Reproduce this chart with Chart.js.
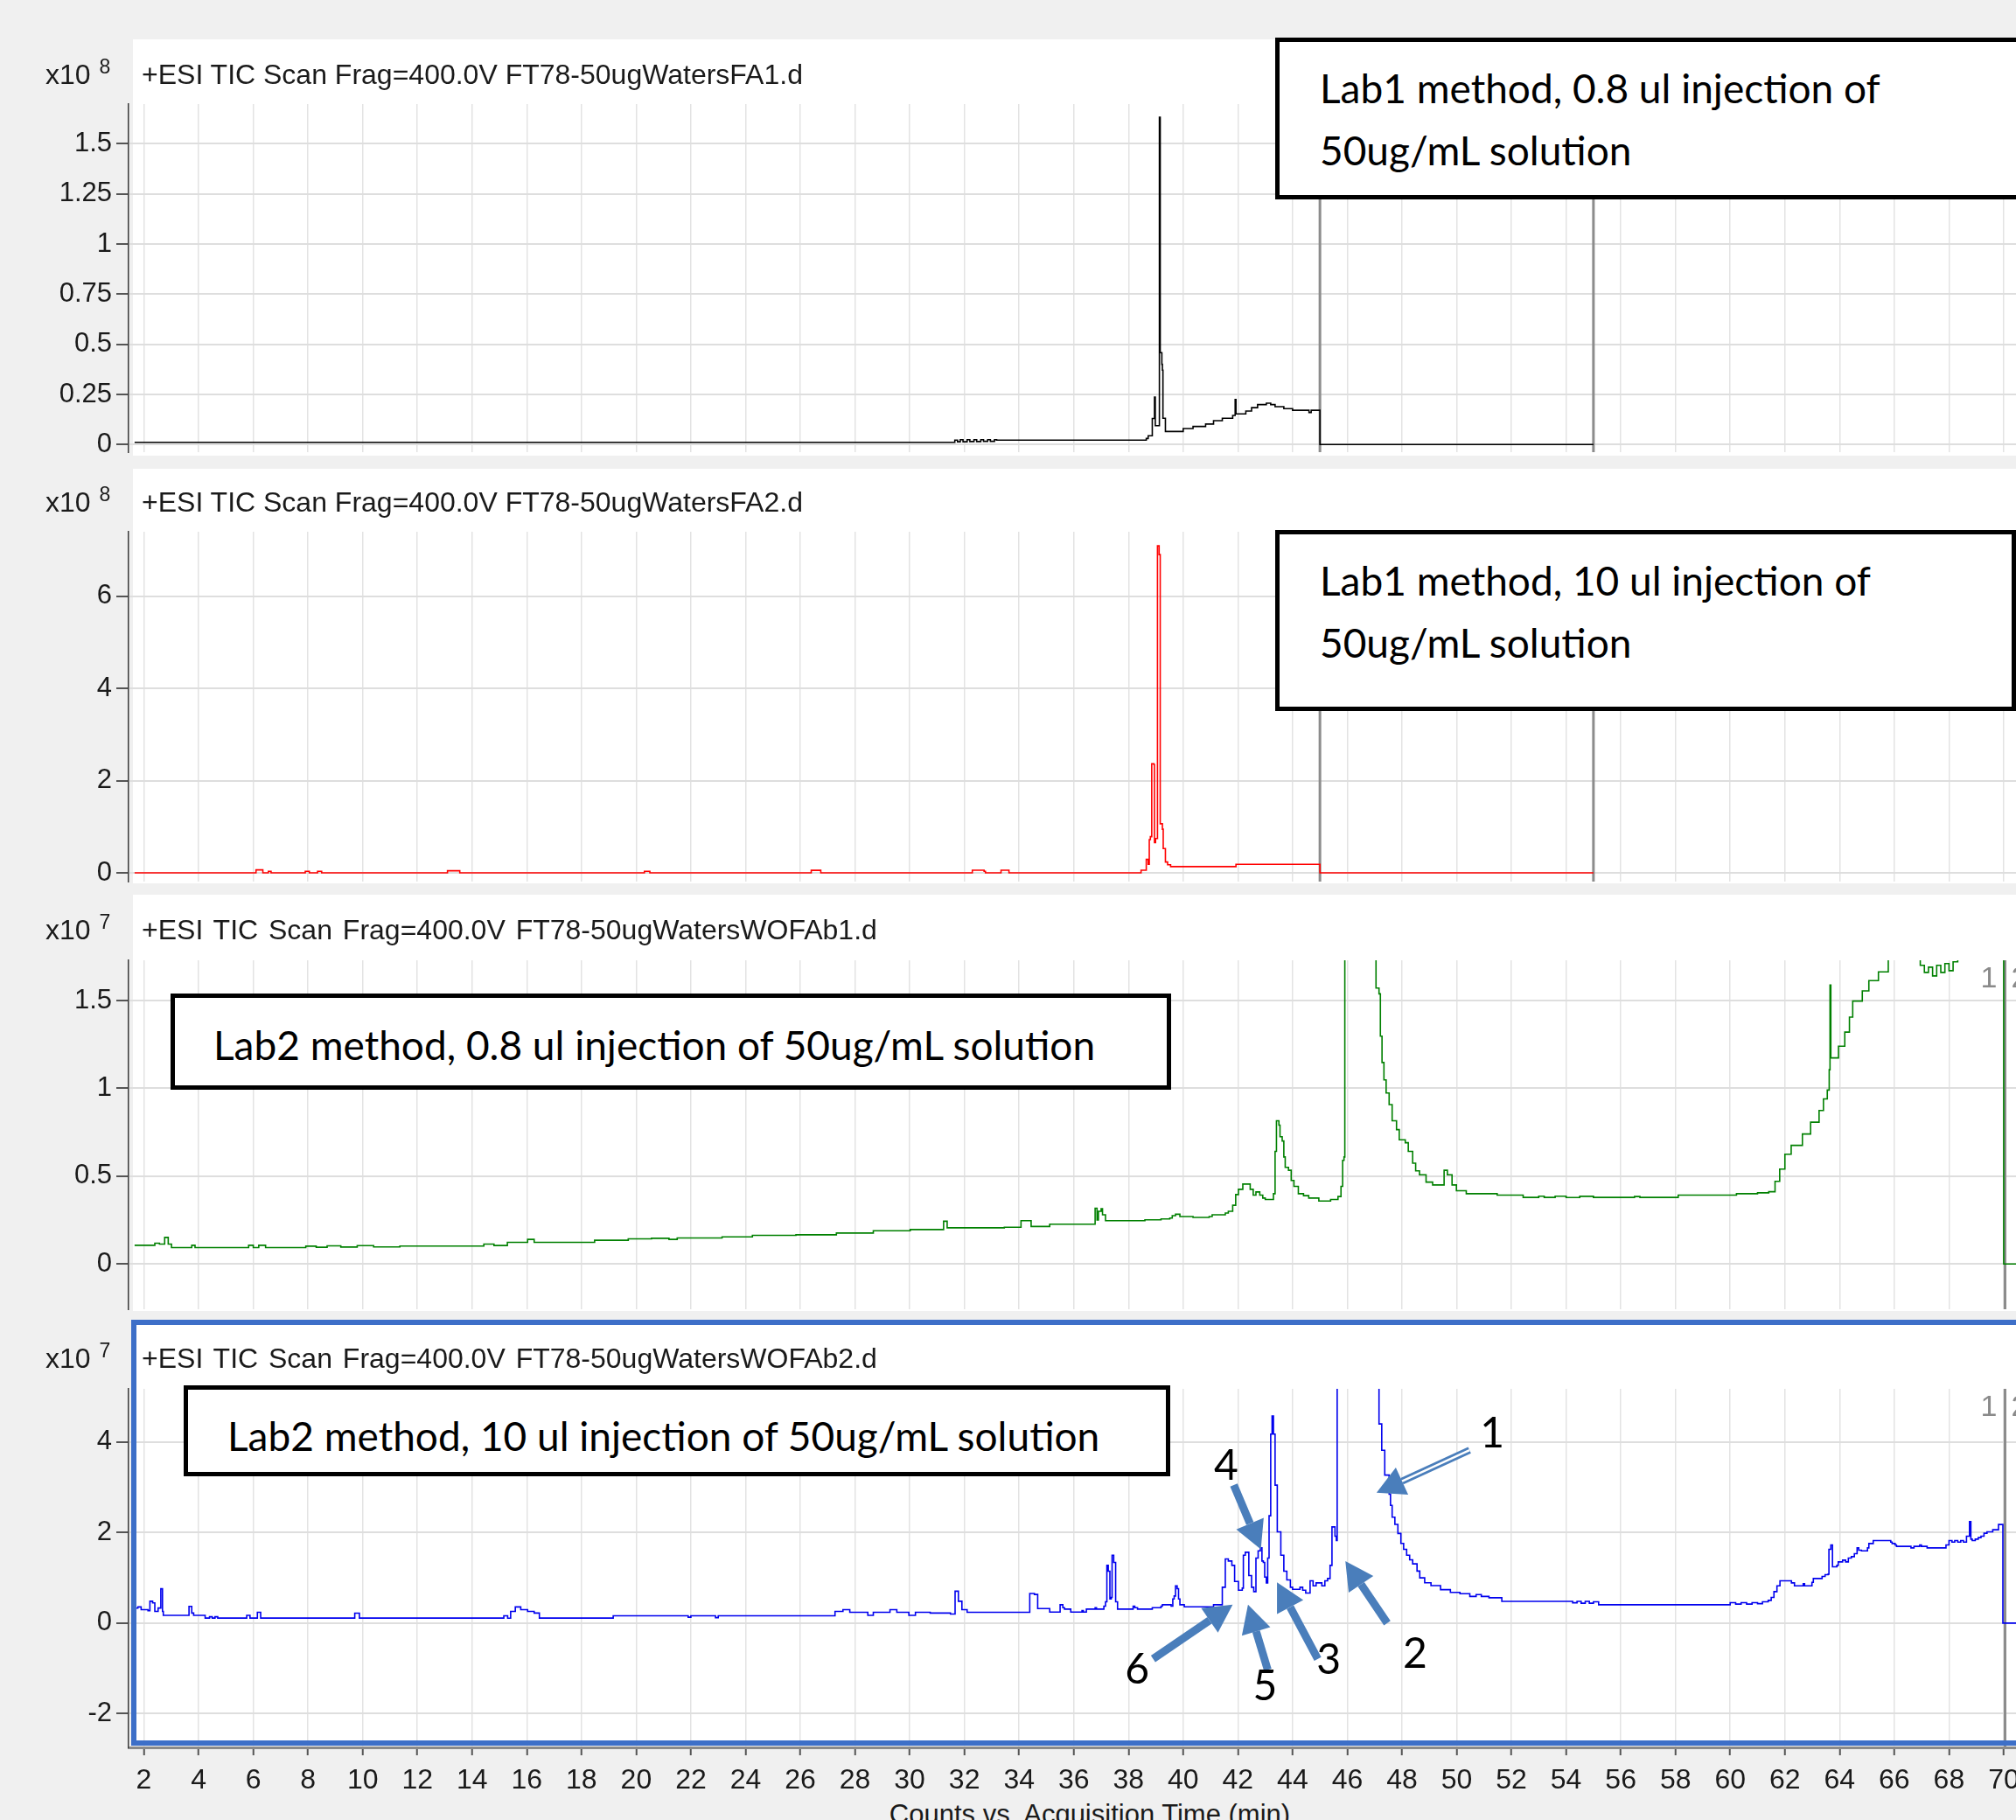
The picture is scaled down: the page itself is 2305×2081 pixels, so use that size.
<!DOCTYPE html>
<html>
<head>
<meta charset="utf-8">
<title>TIC Scan Frag=400.0V</title>
<script src="https://cdn.jsdelivr.net/npm/chart.js@4.4.1/dist/chart.umd.min.js"></script>
<style>
  html, body { margin: 0; padding: 0; }
  body {
    width: 2305px; height: 2081px; overflow: hidden; position: relative;
    background: #f0f0f0; color: #1a1a1a;
    font-family: "Liberation Sans", Arial, sans-serif;
  }
  .panel { position: absolute; left: 152px; width: 2153px; background: #fff; }
  .frame {
    position: absolute; left: 150px; top: 1509px; width: 2300px; height: 475px;
    border: 6px solid #3d6fc8; pointer-events: none; z-index: 4;
  }
  canvas { position: absolute; left: 0; z-index: 1; }
  .header, .mult {
    position: absolute; font-size: 32px; line-height: 36px; white-space: nowrap; z-index: 2;
  }
  .header { left: 162px; }
  .mult { left: 52px; }
  .mult span { font-size: 23px; position: relative; top: -12px; margin-left: 10px; }
  .note {
    position: absolute; box-sizing: border-box; background: #fff; border: 5px solid #000;
    font-family: Lato, "Open Sans", sans-serif; font-size: 46px; line-height: 71px;
    white-space: nowrap; overflow: hidden; z-index: 3; color: #000;
  }
  .axis-title {
    position: absolute; left: 846px; width: 800px; top: 2057px; text-align: center;
    font-size: 31px; line-height: 36px; white-space: nowrap;
  }
</style>
</head>
<body>

<div class="panel" style="top:45px;height:476px"></div>
<div class="panel" style="top:536px;height:474px"></div>
<div class="panel" style="top:1023px;height:476px"></div>
<div class="panel" style="top:1509px;height:487px"></div>

<div class="mult" style="top:67px">x10<span>8</span></div>
<div class="header" style="top:67px">+ESI TIC Scan Frag=400.0V FT78-50ugWatersFA1.d</div>
<div class="mult" style="top:556px">x10<span>8</span></div>
<div class="header" style="top:556px">+ESI TIC Scan Frag=400.0V FT78-50ugWatersFA2.d</div>
<div class="mult" style="top:1045px">x10<span>7</span></div>
<div class="header" style="top:1045px;word-spacing:3px">+ESI TIC Scan Frag=400.0V FT78-50ugWatersWOFAb1.d</div>
<div class="mult" style="top:1535px">x10<span>7</span></div>
<div class="header" style="top:1535px;word-spacing:3px">+ESI TIC Scan Frag=400.0V FT78-50ugWatersWOFAb2.d</div>

<canvas id="chartFA1" width="2305" height="438" style="top:99px"></canvas>
<canvas id="chartFA2" width="2305" height="440" style="top:588px"></canvas>
<canvas id="chartWOFA1" width="2305" height="439" style="top:1078px"></canvas>
<canvas id="chartWOFA2" width="2305" height="513" style="top:1568px"></canvas>

<div class="note" style="left:1458px;top:43px;width:1000px;height:185px;padding:17px 0 0 46px">Lab1 method, 0.8 ul injection of<br>50ug/mL solution</div>
<div class="note" style="left:1458px;top:606px;width:847px;height:207px;padding:17px 0 0 46px">Lab1 method, 10 ul injection of<br>50ug/mL solution</div>
<div class="note" style="left:195px;top:1136px;width:1144px;height:110px;padding:18px 0 0 44px">Lab2 method, 0.8 ul injection of 50ug/mL solution</div>
<div class="note" style="left:210px;top:1584px;width:1128px;height:104px;padding:17px 0 0 45px">Lab2 method, 10 ul injection of 50ug/mL solution</div>

<div class="frame"></div>
<div class="axis-title">Counts vs. Acquisition Time (min)</div>

<script>
// Eje de tiempo (min)
const timeRange = [1.44, 70.45];
const timeTicks = [2, 4, 6, 8, 10, 12, 14, 16, 18, 20, 22, 24, 26, 28, 30, 32, 34, 36,
    38, 40, 42, 44, 46, 48, 50, 52, 54, 56, 58, 60, 62, 64, 66, 68, 70];

// Ejes de cuentas por panel
const fa1Range = [-0.038, 1.698];
const fa1Ticks = [0, 0.25, 0.5, 0.75, 1, 1.25, 1.5];
const fa2Range = [-0.184, 7.396];
const fa2Ticks = [0, 2, 4, 6];
const wofa1Range = [-0.258, 1.729];
const wofa1Ticks = [0, 0.5, 1, 1.5];
const wofa2Range = [-2.746, 5.176];
const wofa2Ticks = [-2, 0, 2, 4];

// FT78-50ugWatersFA1.d  [min, counts x10^8]
const fa1Trace = [
    [1.66, 0.011], [31.65, 0.022], [31.75, 0.014], [31.85, 0.024], [31.95, 0.014], [32.1, 0.024],
    [32.2, 0.015], [32.35, 0.024], [32.45, 0.015], [32.6, 0.024], [32.7, 0.016], [32.85, 0.024],
    [32.95, 0.016], [33.1, 0.024], [33.18, 0.022],
    [38.65, 0.03], [38.72, 0.044], [38.87, 0.13], [38.95, 0.237], [38.98, 0.094],
    [39.13, 1.632], [39.16, 0.458], [39.22, 0.40], [39.24, 0.371], [39.26, 0.131], [39.35, 0.065],
    [40.0, 0.08], [40.36, 0.09], [40.82, 0.102], [41.11, 0.119], [41.43, 0.131], [41.81, 0.145],
    [41.9, 0.225], [41.93, 0.153], [42.29, 0.167], [42.5, 0.184], [42.72, 0.199], [43.04, 0.206],
    [43.2, 0.199], [43.36, 0.189], [43.68, 0.179], [44.0, 0.171], [44.6, 0.160], [44.68, 0.171],
    [45.0, 0.0], [55.0, 0.0]
];

// FT78-50ugWatersFA2.d  [min, counts x10^8]
const fa2Trace = [
    [1.66, 0.005], [6.1, 0.07], [6.35, 0.005], [6.55, 0.04], [6.65, 0.005],
    [7.9, 0.04], [8.05, 0.005], [8.35, 0.04], [8.5, 0.005], [13.1, 0.05], [13.55, 0.005],
    [20.3, 0.04], [20.5, 0.005], [26.4, 0.06], [26.75, 0.005],
    [32.29, 0.063], [32.72, 0.04], [32.77, 0.005], [33.34, 0.063], [33.63, 0.005],
    [38.46, 0.063], [38.65, 0.296], [38.72, 0.19], [38.76, 0.726], [38.8, 0.79], [38.85, 2.37],
    [38.93, 2.35], [38.95, 0.66], [38.99, 0.75], [39.06, 7.09], [39.12, 6.9], [39.16, 1.07],
    [39.24, 0.95], [39.27, 0.53], [39.35, 0.24], [39.43, 0.18], [39.54, 0.14],
    [41.93, 0.19], [45.0, 0.005], [55.0, 0.005]
];

// FT78-50ugWatersWOFAb1.d  [min, counts x10^7]
const wofa1Trace = [
    [1.66, 0.106], [2.4, 0.118], [2.57, 0.113], [2.76, 0.151], [2.89, 0.113], [3.01, 0.093],
    [3.75, 0.106], [3.87, 0.093], [5.83, 0.106], [6.0, 0.093], [6.2, 0.106], [6.45, 0.093],
    [7.92, 0.101], [8.3, 0.095], [8.7, 0.103], [9.2, 0.096], [9.8, 0.104], [10.4, 0.097],
    [11.36, 0.102], [14.43, 0.113], [14.8, 0.105], [15.29, 0.123], [16.03, 0.140], [16.27, 0.123],
    [18.48, 0.135], [19.71, 0.143], [20.56, 0.146], [21.2, 0.14], [21.5, 0.148], [23.14, 0.154],
    [24.25, 0.163], [25.84, 0.166], [27.32, 0.176], [28.67, 0.189], [30.02, 0.196], [31.24, 0.243],
    [31.37, 0.206], [33.46, 0.209], [34.07, 0.246], [34.44, 0.213], [35.12, 0.226],
    [36.78, 0.317], [36.85, 0.25], [36.9, 0.30], [37.0, 0.315], [37.05, 0.28], [37.16, 0.246],
    [38.6, 0.251], [39.19, 0.256], [39.51, 0.261], [39.6, 0.275], [39.72, 0.283], [39.88, 0.27],
    [40.36, 0.265], [40.95, 0.27], [41.06, 0.28], [41.54, 0.29], [41.65, 0.30], [41.81, 0.334],
    [41.92, 0.395], [42.02, 0.425], [42.18, 0.455], [42.45, 0.425], [42.56, 0.392], [42.66, 0.41],
    [42.8, 0.392], [42.91, 0.375], [43.0, 0.367], [43.3, 0.40], [43.36, 0.641], [43.41, 0.815],
    [43.5, 0.79], [43.54, 0.724], [43.62, 0.70], [43.68, 0.609], [43.73, 0.55], [43.85, 0.533],
    [43.95, 0.475], [44.05, 0.442], [44.21, 0.40], [44.4, 0.389], [44.59, 0.375], [44.96, 0.358],
    [45.39, 0.367], [45.66, 0.384], [45.77, 0.442], [45.83, 0.59], [45.88, 0.609], [45.91, 3.0],
    [47.05, 1.571], [47.16, 1.538], [47.21, 1.297], [47.27, 1.147], [47.34, 1.048], [47.42, 0.973],
    [47.53, 0.907], [47.64, 0.815], [47.8, 0.765], [47.9, 0.707], [48.12, 0.69], [48.23, 0.641],
    [48.39, 0.574], [48.5, 0.53], [48.64, 0.508], [48.88, 0.466], [49.12, 0.45], [49.54, 0.533],
    [49.66, 0.508], [49.83, 0.45], [49.99, 0.417], [50.35, 0.40], [51.48, 0.392], [52.43, 0.379],
    [53.0, 0.386], [53.2, 0.379], [53.6, 0.386], [54.0, 0.378], [54.5, 0.385], [55.0, 0.379],
    [56.5, 0.384], [56.7, 0.379], [58.1, 0.392], [60.23, 0.40], [61.0, 0.405], [61.41, 0.411],
    [61.64, 0.47], [61.81, 0.54], [62.0, 0.625], [62.23, 0.675], [62.64, 0.74], [62.94, 0.807],
    [63.25, 0.874], [63.41, 0.94], [63.55, 0.99], [63.62, 1.106], [63.65, 1.588], [63.68, 1.173],
    [63.96, 1.24], [64.19, 1.32], [64.36, 1.405], [64.48, 1.497], [64.83, 1.555], [65.07, 1.613],
    [65.42, 1.663], [65.78, 1.9], [66.95, 1.70], [67.1, 1.66], [67.25, 1.69], [67.4, 1.64],
    [67.55, 1.70], [67.7, 1.66], [67.85, 1.71], [68.0, 1.67], [68.15, 1.72], [68.32, 1.9],
    [70.0, 0.0], [70.45, 0.0]
];

// FT78-50ugWatersWOFAb2.d  [min, counts x10^7]
const wofa2Trace = [
    [1.66, 0.33], [1.78, 0.357], [1.9, 0.297], [2.15, 0.275], [2.22, 0.483], [2.32, 0.446],
    [2.4, 0.26], [2.52, 0.334], [2.62, 0.758], [2.68, 0.26], [2.71, 0.171], [3.62, 0.171],
    [3.65, 0.371], [3.75, 0.223], [3.82, 0.171], [4.24, 0.111], [4.4, 0.14], [4.5, 0.111],
    [4.6, 0.14], [4.7, 0.111], [5.76, 0.171], [5.88, 0.111], [6.15, 0.238], [6.27, 0.111],
    [9.71, 0.22], [9.88, 0.111], [15.16, 0.163], [15.3, 0.11], [15.41, 0.26], [15.58, 0.357],
    [15.78, 0.297], [16.03, 0.26], [16.27, 0.223], [16.46, 0.111], [19.16, 0.163], [21.9, 0.13],
    [22.0, 0.163], [22.9, 0.12], [23.0, 0.163], [27.27, 0.26], [27.56, 0.297], [27.81, 0.238],
    [28.47, 0.171], [28.67, 0.238], [29.28, 0.297], [29.53, 0.238], [29.97, 0.171], [30.21, 0.238],
    [30.75, 0.223], [31.49, 0.201], [31.66, 0.706], [31.78, 0.483], [31.91, 0.297], [32.1, 0.238],
    [34.31, 0.238], [34.39, 0.654], [34.56, 0.632], [34.68, 0.32], [35.12, 0.245], [35.5, 0.406],
    [35.6, 0.341], [35.66, 0.309], [35.89, 0.245], [36.3, 0.277], [36.35, 0.245], [36.46, 0.309],
    [36.78, 0.341], [36.83, 0.309], [37.1, 0.374], [37.16, 0.47], [37.21, 1.276], [37.26, 1.147],
    [37.32, 0.535], [37.37, 0.567], [37.4, 1.501], [37.46, 1.34], [37.53, 0.47], [37.6, 0.309],
    [38.17, 0.374], [38.23, 0.341], [38.33, 0.309], [38.87, 0.341], [39.19, 0.374], [39.24, 0.406],
    [39.56, 0.374], [39.62, 0.535], [39.67, 0.599], [39.72, 0.825], [39.78, 0.76], [39.83, 0.535],
    [39.88, 0.406], [40.04, 0.361], [41.11, 0.406], [41.43, 0.793], [41.54, 1.418], [41.65, 1.372],
    [41.78, 1.276], [41.88, 0.921], [42.02, 0.728], [42.16, 0.773], [42.2, 1.501], [42.27, 1.566],
    [42.4, 1.05], [42.5, 0.793], [42.58, 0.696], [42.66, 1.437], [42.74, 1.598], [42.82, 1.662],
    [42.88, 1.372], [42.93, 1.34], [42.98, 1.018], [43.04, 0.889], [43.09, 1.437], [43.14, 2.371],
    [43.2, 4.175], [43.25, 4.575], [43.3, 4.175], [43.36, 3.048], [43.44, 2.017], [43.57, 1.501],
    [43.68, 1.147], [43.79, 0.954], [43.92, 0.793], [44.0, 0.747], [44.27, 0.793], [44.37, 0.728],
    [44.48, 0.664], [44.64, 0.934], [44.75, 0.825], [44.86, 0.889], [45.07, 0.825], [45.18, 0.934],
    [45.28, 0.986], [45.37, 1.276], [45.44, 2.126], [45.55, 1.92], [45.6, 1.823], [45.63, 7.0],
    [47.16, 4.40], [47.26, 3.82], [47.37, 3.27], [47.53, 2.85], [47.58, 2.60], [47.64, 2.34],
    [47.74, 2.18], [47.85, 1.98], [47.96, 1.76], [48.06, 1.63], [48.17, 1.50], [48.28, 1.40],
    [48.39, 1.31], [48.55, 1.15], [48.65, 1.0], [48.83, 0.89], [49.06, 0.83], [49.41, 0.74],
    [49.77, 0.68], [50.12, 0.65], [50.48, 0.59], [50.71, 0.63], [50.9, 0.59], [51.18, 0.56],
    [51.65, 0.48], [54.24, 0.45], [54.4, 0.48], [54.55, 0.44], [54.7, 0.48], [54.85, 0.44],
    [55.0, 0.47], [55.19, 0.406], [60.0, 0.451], [60.2, 0.42], [60.4, 0.451], [60.6, 0.42],
    [60.8, 0.451], [61.0, 0.43], [61.18, 0.47], [61.39, 0.503], [61.5, 0.567], [61.6, 0.696],
    [61.71, 0.825], [61.82, 0.934], [62.24, 0.889], [62.35, 0.825], [62.67, 0.87], [62.72, 0.825],
    [62.99, 0.902], [63.04, 0.986], [63.36, 1.031], [63.47, 1.07], [63.58, 1.082], [63.61, 1.63],
    [63.68, 1.727], [63.74, 1.244], [63.9, 1.276], [63.95, 1.353], [64.11, 1.392], [64.22, 1.353],
    [64.32, 1.437], [64.43, 1.469], [64.54, 1.534], [64.64, 1.662], [64.7, 1.611], [64.8, 1.598],
    [65.02, 1.662], [65.07, 1.759], [65.23, 1.823], [65.87, 1.791], [65.92, 1.759], [66.03, 1.727],
    [66.08, 1.695], [66.61, 1.662], [66.72, 1.695], [66.93, 1.727], [66.99, 1.695], [67.2, 1.662],
    [67.89, 1.727], [68.0, 1.823], [68.11, 1.791], [68.21, 1.823], [68.32, 1.791], [68.43, 1.823],
    [68.53, 1.791], [68.64, 1.92], [68.75, 2.242], [68.8, 1.856], [68.85, 1.823], [68.96, 1.856],
    [69.07, 1.888], [69.17, 1.92], [69.28, 1.985], [69.39, 2.017], [69.6, 2.062], [69.81, 2.178],
    [69.97, 0.0], [70.45, 0.0]
];

// Flechas de picos (desde -> hasta) y numeros, en [min, cuentas]
const peakArrows = [
    { from: [50.47, 3.82], to: [47.07, 2.88], hollow: true },
    { from: [47.46, 0.0], to: [45.93, 1.37] },
    { from: [44.92, -0.79], to: [43.43, 0.90] },
    { from: [41.85, 3.05], to: [42.84, 1.63] },
    { from: [43.09, -1.03], to: [42.37, 0.41] },
    { from: [38.90, -0.79], to: [41.81, 0.41] }
];
const peakLabels = [
    { text: '1', at: [51.30, 4.19] },
    { text: '2', at: [48.48, -0.68] },
    { text: '3', at: [45.32, -0.83] },
    { text: '4', at: [41.57, 3.46] },
    { text: '5', at: [42.99, -1.41] },
    { text: '6', at: [38.32, -1.04] }
];

const lab1Dividers = [45.0, 55.0];
const lab2Dividers = [70.05];
const arrowColor = '#4a7ebb';

document.addEventListener('DOMContentLoaded', function() {
    initializeCharts();
});

function initializeCharts() {
    createPanel('chartFA1', fa1Trace, '#000000', fa1Range, fa1Ticks, { dividers: lab1Dividers });
    createPanel('chartFA2', fa2Trace, '#ff0000', fa2Range, fa2Ticks, { dividers: lab1Dividers });
    createPanel('chartWOFA1', wofa1Trace, '#008000', wofa1Range, wofa1Ticks,
        { dividers: lab2Dividers, segments: true });
    createPanel('chartWOFA2', wofa2Trace, '#0000ee', wofa2Range, wofa2Ticks,
        { dividers: lab2Dividers, segments: true, bottomAxis: true, arrows: peakArrows, labels: peakLabels });
}

function createPanel(canvasId, trace, color, yRange, yTicks, extra) {
    const canvas = document.getElementById(canvasId);
    const isBottom = !!extra.bottomAxis;
    return new Chart(canvas, {
        type: 'line',
        data: {
            datasets: [{
                data: trace.map(p => ({ x: p[0], y: p[1] })),
                borderColor: color,
                borderWidth: 1.6,
                pointRadius: 0,
                stepped: true,
                fill: false,
                clip: 0
            }]
        },
        options: {
            responsive: false,
            animation: false,
            devicePixelRatio: 1,
            events: [],
            layout: { padding: { top: 20, bottom: isBottom ? 0 : 20, left: 0, right: 0 } },
            plugins: { legend: { display: false }, tooltip: { enabled: false } },
            scales: {
                x: {
                    type: 'linear',
                    min: timeRange[0],
                    max: timeRange[1],
                    afterBuildTicks: s => { s.ticks = timeTicks.map(v => ({ value: v })); },
                    afterFit: s => { s.paddingLeft = 0; s.paddingRight = 0; s.height = isBottom ? 83 : 0; },
                    grid: { color: '#e3e3e3', lineWidth: 1.5, drawTicks: isBottom, tickLength: 9, tickColor: '#555', tickWidth: 2 },
                    border: { display: isBottom, color: '#8a8a8a', width: 3 },
                    ticks: {
                        display: isBottom, autoSkip: false, maxRotation: 0, padding: 10,
                        color: '#1a1a1a', font: { family: 'Liberation Sans', size: 32 },
                        callback: v => String(v)
                    }
                },
                y: {
                    min: yRange[0],
                    max: yRange[1],
                    afterBuildTicks: s => { s.ticks = yTicks.map(v => ({ value: v })); },
                    afterFit: s => { s.width = 147; s.paddingTop = 0; s.paddingBottom = 0; },
                    grid: { color: '#dedede', lineWidth: 2, tickLength: 14, tickColor: '#555', tickWidth: 2 },
                    border: { display: true, color: '#3a3a3a', width: 1.5 },
                    ticks: {
                        padding: 5, color: '#1a1a1a', font: { family: 'Liberation Sans', size: 31 },
                        callback: v => String(v)
                    }
                }
            }
        },
        plugins: [makeDecor(extra)]
    });
}

// Lineas de separacion, flechas y numeros
function makeDecor(extra) {
    return {
        id: 'decor',
        beforeDatasetsDraw(chart) {
            const { ctx, chartArea: a, scales: { x } } = chart;
            ctx.save();
            ctx.strokeStyle = '#8c8c8c';
            ctx.lineWidth = 3;
            (extra.dividers || []).forEach(t => {
                const px = x.getPixelForValue(t);
                ctx.beginPath();
                ctx.moveTo(px, a.top);
                ctx.lineTo(px, a.bottom);
                ctx.stroke();
            });
            ctx.restore();
        },
        afterDatasetsDraw(chart) {
            const { ctx, chartArea: a, scales: { x, y } } = chart;
            ctx.save();
            if (extra.segments) {
                const px = x.getPixelForValue(lab2Dividers[0]);
                ctx.fillStyle = '#8a8a8a';
                ctx.font = '34px "Liberation Sans"';
                ctx.textBaseline = 'middle';
                ctx.textAlign = 'right';
                ctx.fillText('1', px - 9, a.top + 22);
                ctx.textAlign = 'left';
                ctx.fillText('2', px + 7, a.top + 22);
            }
            (extra.arrows || []).forEach(ar => {
                drawArrow(ctx,
                    x.getPixelForValue(ar.from[0]), y.getPixelForValue(ar.from[1]),
                    x.getPixelForValue(ar.to[0]), y.getPixelForValue(ar.to[1]), ar.hollow);
            });
            ctx.fillStyle = '#000';
            ctx.font = '48px Lato';
            ctx.textAlign = 'center';
            ctx.textBaseline = 'middle';
            (extra.labels || []).forEach(lb => {
                ctx.fillText(lb.text, x.getPixelForValue(lb.at[0]), y.getPixelForValue(lb.at[1]));
            });
            ctx.restore();
        }
    };
}

function drawArrow(ctx, x1, y1, x2, y2, hollow) {
    const ang = Math.atan2(y2 - y1, x2 - x1);
    const headLen = 32, headW = 17;
    const bx = x2 - headLen * Math.cos(ang);
    const by = y2 - headLen * Math.sin(ang);
    ctx.strokeStyle = arrowColor;
    ctx.lineWidth = hollow ? 8 : 9;
    ctx.lineCap = 'butt';
    ctx.beginPath();
    ctx.moveTo(x1, y1);
    ctx.lineTo(bx, by);
    ctx.stroke();
    if (hollow) {
        ctx.strokeStyle = '#fff';
        ctx.lineWidth = 2.5;
        ctx.beginPath();
        ctx.moveTo(x1, y1);
        ctx.lineTo(bx, by);
        ctx.stroke();
    }
    const nx = -Math.sin(ang), ny = Math.cos(ang);
    ctx.fillStyle = arrowColor;
    ctx.beginPath();
    ctx.moveTo(x2, y2);
    ctx.lineTo(bx + nx * headW, by + ny * headW);
    ctx.lineTo(bx - nx * headW, by - ny * headW);
    ctx.closePath();
    ctx.fill();
}
</script>
</body>
</html>
